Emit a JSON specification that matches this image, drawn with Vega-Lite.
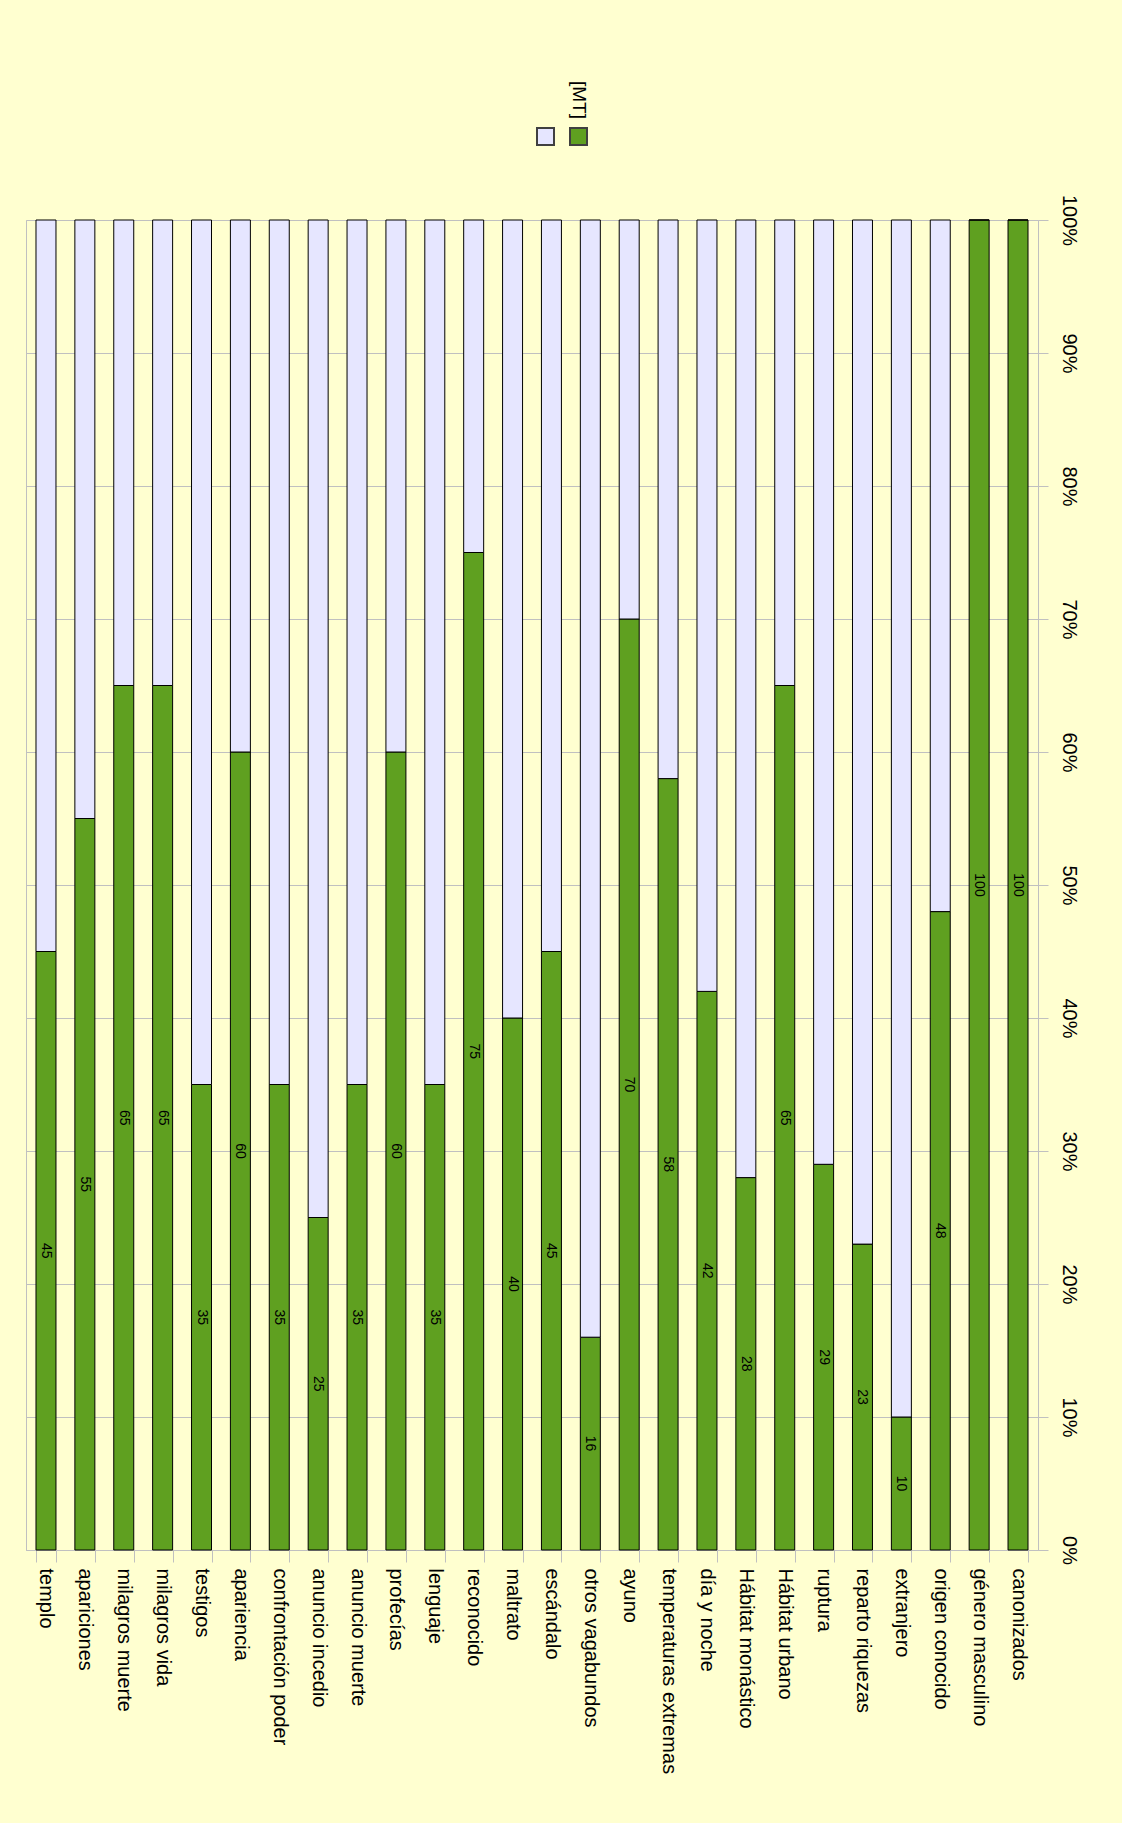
{
  "$schema": "https://vega.github.io/schema/vega-lite/v6.json",
  "width": 1012,
  "height": 1330,
  "autosize": {"type": "none"},
  "padding": {"left": 26, "top": 220, "right": 84, "bottom": 273},
  "background": "#FFFFD0",
  "config": {
    "view": {"stroke": "#C0C0C0", "strokeWidth": 1},
    "font": "Liberation Sans"
  },
  "data": {
    "values": [
      {"cat": "templo", "serie": "[MT]", "v": 45}, {"cat": "templo", "serie": " ", "v": 55},
      {"cat": "apariciones", "serie": "[MT]", "v": 55}, {"cat": "apariciones", "serie": " ", "v": 45},
      {"cat": "milagros muerte", "serie": "[MT]", "v": 65}, {"cat": "milagros muerte", "serie": " ", "v": 35},
      {"cat": "milagros vida", "serie": "[MT]", "v": 65}, {"cat": "milagros vida", "serie": " ", "v": 35},
      {"cat": "testigos", "serie": "[MT]", "v": 35}, {"cat": "testigos", "serie": " ", "v": 65},
      {"cat": "apariencia", "serie": "[MT]", "v": 60}, {"cat": "apariencia", "serie": " ", "v": 40},
      {"cat": "confrontación poder", "serie": "[MT]", "v": 35}, {"cat": "confrontación poder", "serie": " ", "v": 65},
      {"cat": "anuncio incedio", "serie": "[MT]", "v": 25}, {"cat": "anuncio incedio", "serie": " ", "v": 75},
      {"cat": "anuncio muerte", "serie": "[MT]", "v": 35}, {"cat": "anuncio muerte", "serie": " ", "v": 65},
      {"cat": "profecías", "serie": "[MT]", "v": 60}, {"cat": "profecías", "serie": " ", "v": 40},
      {"cat": "lenguaje", "serie": "[MT]", "v": 35}, {"cat": "lenguaje", "serie": " ", "v": 65},
      {"cat": "reconocido", "serie": "[MT]", "v": 75}, {"cat": "reconocido", "serie": " ", "v": 25},
      {"cat": "maltrato", "serie": "[MT]", "v": 40}, {"cat": "maltrato", "serie": " ", "v": 60},
      {"cat": "escándalo", "serie": "[MT]", "v": 45}, {"cat": "escándalo", "serie": " ", "v": 55},
      {"cat": "otros vagabundos", "serie": "[MT]", "v": 16}, {"cat": "otros vagabundos", "serie": " ", "v": 84},
      {"cat": "ayuno", "serie": "[MT]", "v": 70}, {"cat": "ayuno", "serie": " ", "v": 30},
      {"cat": "temperaturas extremas", "serie": "[MT]", "v": 58}, {"cat": "temperaturas extremas", "serie": " ", "v": 42},
      {"cat": "día y noche", "serie": "[MT]", "v": 42}, {"cat": "día y noche", "serie": " ", "v": 58},
      {"cat": "Hábitat monástico", "serie": "[MT]", "v": 28}, {"cat": "Hábitat monástico", "serie": " ", "v": 72},
      {"cat": "Hábitat urbano", "serie": "[MT]", "v": 65}, {"cat": "Hábitat urbano", "serie": " ", "v": 35},
      {"cat": "ruptura", "serie": "[MT]", "v": 29}, {"cat": "ruptura", "serie": " ", "v": 71},
      {"cat": "reparto riquezas", "serie": "[MT]", "v": 23}, {"cat": "reparto riquezas", "serie": " ", "v": 77},
      {"cat": "extranjero", "serie": "[MT]", "v": 10}, {"cat": "extranjero", "serie": " ", "v": 90},
      {"cat": "origen conocido", "serie": "[MT]", "v": 48}, {"cat": "origen conocido", "serie": " ", "v": 52},
      {"cat": "género masculino", "serie": "[MT]", "v": 100}, {"cat": "género masculino", "serie": " ", "v": 0},
      {"cat": "canonizados", "serie": "[MT]", "v": 100}, {"cat": "canonizados", "serie": " ", "v": 0}
    ]
  },
  "encoding": {
    "x": {
      "field": "cat",
      "type": "nominal",
      "sort": null,
      "scale": {"paddingInner": 0.486, "paddingOuter": 0.257},
      "axis": {
        "title": null,
        "labelAngle": 90,
        "labelAlign": "left",
        "labelBaseline": "middle",
        "labelFontSize": 20,
        "labelColor": "#000000",
        "labelPadding": 6,
        "labelLimit": 400,
        "tickSize": 12,
        "tickColor": "#C0C0C0",
        "tickBand": "extent",
        "domainColor": "#C0C0C0"
      }
    },
    "y": {
      "field": "v",
      "type": "quantitative",
      "stack": "zero",
      "scale": {"domain": [0, 100], "nice": false},
      "axis": {
        "title": null,
        "orient": "right",
        "values": [0, 10, 20, 30, 40, 50, 60, 70, 80, 90, 100],
        "labelExpr": "datum.value + '%'",
        "grid": true,
        "gridColor": "#C0C0C0",
        "domain": false,
        "tickSize": 10,
        "tickColor": "#C0C0C0",
        "labelAngle": 90,
        "labelAlign": "center",
        "labelBaseline": "bottom",
        "labelFontSize": 20,
        "labelColor": "#000000",
        "labelPadding": 10,
        "labelFlush": false,
        "labelOverlap": false
      }
    }
  },
  "layer": [
    {
      "mark": {"type": "bar", "stroke": "#000000", "strokeWidth": 1},
      "encoding": {
        "color": {
          "field": "serie",
          "type": "nominal",
          "scale": {"domain": [" ", "[MT]"], "range": ["#E6E6FF", "#5FA020"]},
          "legend": {
            "title": null,
            "orient": "none",
            "legendX": 510,
            "legendY": -93,
            "direction": "horizontal",
            "symbolType": "square",
            "symbolSize": 289,
            "symbolStrokeWidth": 2,
            "symbolStrokeColor": "#404040",
            "symbolOpacity": 1,
            "labelFontSize": 19,
            "labelColor": "#000000",
            "labelOffset": 0,
            "columnPadding": 8,
            "padding": 0,
            "encode": {
              "labels": {
                "update": {
                  "angle": {"value": 90},
                  "align": {"value": "right"},
                  "baseline": {"value": "middle"},
                  "dx": {"value": -17.5},
                  "dy": {"value": 9.5}
                }
              }
            }
          }
        },
        "order": {"field": "serie", "sort": "descending"}
      }
    },
    {
      "transform": [{"filter": "datum.serie == '[MT]'"}],
      "mark": {"type": "text", "angle": 90, "fontSize": 14, "color": "#000000", "align": "center", "baseline": "middle"},
      "encoding": {
        "y": {"field": "v", "type": "quantitative", "stack": "zero", "bandPosition": 0.5},
        "text": {"field": "v", "type": "quantitative"}
      }
    }
  ]
}
